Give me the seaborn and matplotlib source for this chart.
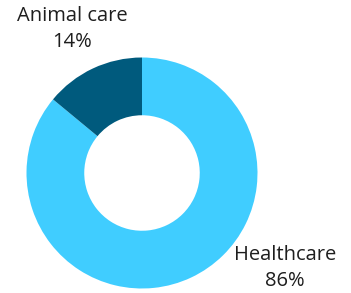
import matplotlib
matplotlib.use("Agg")
import matplotlib.pyplot as plt
import seaborn as sns

# data
categories = ["Healthcare", "Animal care"]
shares = [86, 14]
colors = ["#40CDFF", "#005A7D"]

sns.set_style("white")
plt.rcParams['font.family'] = ['Open Sans', 'DejaVu Sans']

fig = plt.figure(figsize=(3.51, 2.93), dpi=100)
ax = fig.add_axes([0, 0, 1, 1])

wedges, _ = ax.pie(shares, colors=colors, startangle=90, counterclock=False,
                   radius=1, wedgeprops=dict(width=0.5, linewidth=0))

# scale: 1 unit = 115.5 px, center at (142, 173) from top-left
s = 115.5
ax.set_xlim(-142 / s, (351 - 142) / s)
ax.set_ylim(-(293 - 173) / s, 173 / s)
ax.set_aspect("equal")
ax.axis("off")

def px(x, y):
    return (x - 142) / s, (173 - y) / s

label_pos = {"Healthcare": (285, 268), "Animal care": (72, 29)}
for cat, val in zip(categories, shares):
    x, y = px(*label_pos[cat])
    ax.text(x, y, f"{cat}\n{val}%", ha="center", va="center",
            fontsize=14.5, color="#1e1e1e", linespacing=1.45)

fig.savefig("out.png", dpi=100)
